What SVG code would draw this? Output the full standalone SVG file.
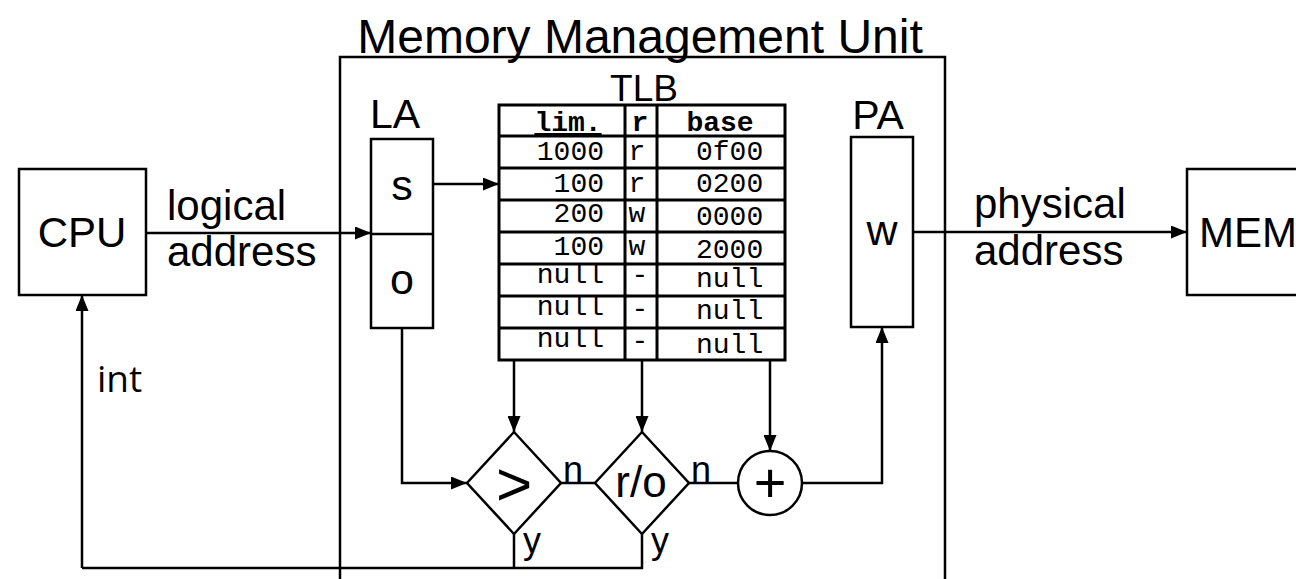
<svg xmlns="http://www.w3.org/2000/svg" width="1296" height="579" viewBox="0 0 1296 579">
<defs>
<marker id="ah" markerUnits="userSpaceOnUse" markerWidth="16" markerHeight="13" refX="16" refY="6.5" orient="auto">
<path d="M0,0 L16,6.5 L0,13 z" fill="#000"/>
</marker>
<style>
.box{fill:#fff;stroke:#000;stroke-width:2.5}
.ln{fill:none;stroke:#000;stroke-width:2.5}
.tl{fill:none;stroke:#000;stroke-width:3}
.arr{fill:none;stroke:#000;stroke-width:2.5;marker-end:url(#ah)}
.s{font-family:"Liberation Sans",Arial,sans-serif;fill:#000}
.m{font-family:"Liberation Mono","Courier New",monospace;font-size:28px;fill:#000}
.mb{font-family:"Liberation Mono","Courier New",monospace;font-size:28px;font-weight:bold;fill:#000}
</style>
</defs>
<rect width="1296" height="579" fill="#fff"/>

<g id="mmu">
<path class="ln" d="M340,579 V57 H945 V579"/>
<text class="s" x="640" y="53" font-size="48" text-anchor="middle">Memory Management Unit</text>
</g>

<g id="cpu">
<rect class="box" x="19" y="169" width="127" height="126"/>
<text class="s" x="82" y="247" font-size="42" text-anchor="middle">CPU</text>
</g>

<g id="mem">
<rect class="box" x="1187" y="169" width="130" height="126"/>
<text class="s" x="1199" y="247" font-size="42">MEM</text>
</g>

<g id="la">
<text class="s" x="395" y="128" font-size="41" text-anchor="middle">LA</text>
<rect class="box" x="371" y="139" width="62" height="189"/>
<line class="ln" x1="371" y1="234" x2="433" y2="234"/>
<text class="s" x="402" y="200" font-size="43" text-anchor="middle">s</text>
<text class="s" x="402" y="294" font-size="43" text-anchor="middle">o</text>
</g>

<g id="pa">
<text class="s" x="878" y="129" font-size="41" text-anchor="middle">PA</text>
<rect class="box" x="851" y="137" width="62" height="190"/>
<text class="s" x="882" y="245" font-size="43" text-anchor="middle">w</text>
</g>

<g id="tlb">
<text class="s" x="644" y="101" font-size="37" text-anchor="middle">TLB</text>
<rect class="tl" x="499" y="105" width="286" height="255" fill="#fff"/>
<path class="tl" d="M499,136 H785 M499,168 H785 M499,200 H785 M499,232 H785 M499,264 H785 M499,296 H785 M499,328 H785 M625,105 V360 M657,105 V360"/>
<text class="mb" x="568" y="131" text-anchor="middle" text-decoration="underline">lim.</text>
<text class="mb" x="640" y="131" text-anchor="middle">r</text>
<text class="mb" x="720" y="131" text-anchor="middle">base</text>
<g class="m">
<text x="604" y="160" text-anchor="end">1000</text>
<text x="637" y="160" text-anchor="middle">r</text>
<text x="696" y="160">0f00</text>
<text x="604" y="192" text-anchor="end">100</text>
<text x="637" y="192" text-anchor="middle">r</text>
<text x="696" y="192">0200</text>
<text x="604" y="222" text-anchor="end">200</text>
<text x="637" y="222" text-anchor="middle">w</text>
<text x="696" y="225">0000</text>
<text x="604" y="255" text-anchor="end">100</text>
<text x="637" y="255" text-anchor="middle">w</text>
<text x="696" y="258">2000</text>
<text x="604" y="283" text-anchor="end">null</text>
<text x="640" y="283" text-anchor="middle">-</text>
<text x="696" y="287">null</text>
<text x="604" y="315" text-anchor="end">null</text>
<text x="640" y="317" text-anchor="middle">-</text>
<text x="696" y="319">null</text>
<text x="604" y="347" text-anchor="end">null</text>
<text x="640" y="349" text-anchor="middle">-</text>
<text x="696" y="353">null</text>
</g>
</g>

<g id="cmp">
<polygon class="box" points="514,432 561,483 514,534 467,483"/>
<text class="s" x="514" y="505" font-size="62" text-anchor="middle">&gt;</text>
</g>

<g id="ro">
<polygon class="box" points="642,432 689,483 642,534 595,483"/>
<text class="s" x="641" y="497" font-size="44" text-anchor="middle">r/o</text>
</g>

<g id="add">
<circle class="box" cx="770" cy="483" r="32"/>
<text class="s" x="770" y="502" font-size="56" text-anchor="middle">+</text>
</g>

<g id="connectors">
<line class="arr" x1="146" y1="233" x2="371" y2="233"/>
<line class="arr" x1="433" y1="184" x2="499" y2="184"/>
<polyline class="arr" points="402,328 402,483 467,483"/>
<line class="arr" x1="514" y1="360" x2="514" y2="432"/>
<line class="arr" x1="642" y1="360" x2="642" y2="432"/>
<line class="arr" x1="770" y1="360" x2="770" y2="451"/>
<line class="ln" x1="561" y1="483" x2="595" y2="483"/>
<line class="ln" x1="689" y1="483" x2="738" y2="483"/>
<polyline class="arr" points="802,483 882,483 882,327"/>
<polyline class="ln" points="514,534 514,568"/>
<polyline class="ln" points="642,534 642,568 82,568"/>
<line class="arr" x1="82" y1="568" x2="82" y2="295"/>
<line class="arr" x1="913" y1="232" x2="1187" y2="232"/>
<text class="s" x="167" y="220" font-size="42">logical</text>
<text class="s" x="167" y="266" font-size="42">address</text>
<text class="s" x="974" y="218" font-size="42">physical</text>
<text class="s" x="974" y="265" font-size="42">address</text>
<text x="97" y="392" font-size="37" font-family="'Open Sans','Noto Sans',sans-serif">int</text>
<text class="s" x="563" y="482" font-size="36">n</text>
<text class="s" x="691" y="482" font-size="36">n</text>
<text class="s" x="523" y="553" font-size="36">y</text>
<text class="s" x="651" y="553" font-size="36">y</text>
</g>
</svg>
